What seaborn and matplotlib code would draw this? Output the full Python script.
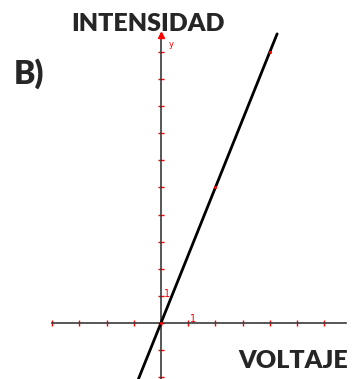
import numpy as np
import pandas as pd
import matplotlib
matplotlib.use('Agg')
import matplotlib.pyplot as plt
import seaborn as sns

sns.set_style('white')
plt.rcParams['font.family'] = ['Lato', 'DejaVu Sans']

# line (voltage -> intensity)
voltaje = [-0.83, 0, 2, 4, 4.27]
intensidad = [-2.07, 0, 5, 10, 10.67]

# small red marks on the line
punto_x = [0, 2, 4]
punto_y = [0, 5, 10]

xticks = [-4, -3, -2, -1, 0, 1, 2, 3, 4, 5, 6]
yticks = [-2, -1, 0, 1, 2, 3, 4, 5, 6, 7, 8, 9, 10]

df = pd.DataFrame({'voltaje': voltaje, 'intensidad': intensidad})
pts = pd.DataFrame({'x': punto_x, 'y': punto_y})

fig = plt.figure(figsize=(3.53, 3.79), dpi=100)
ax = fig.add_axes([0, 0, 1, 1])
ax.patch.set_alpha(0)

sns.lineplot(data=df, x='voltaje', y='intensidad', color='black', lw=2.0,
             sort=False, ax=ax)
sns.scatterplot(data=pts, x='x', y='y', color='red', s=5, linewidth=0,
                zorder=5, ax=ax)

ax.set_xlim(-5.92, 7.06)
ax.set_ylim(-2.07, 11.92)

# axes through the origin
for side in ['top', 'right']:
    ax.spines[side].set_visible(False)
ax.spines['left'].set_position(('data', 0))
ax.spines['bottom'].set_position(('data', 0))
ax.spines['left'].set_bounds(-2.1, 10.65)
ax.spines['bottom'].set_bounds(-4, 6.8)
for side in ['left', 'bottom']:
    ax.spines[side].set_color('#3a3a3a')
    ax.spines[side].set_linewidth(1.2)
    ax.spines[side].set_zorder(1)

ax.set_xticks(xticks)
ax.set_yticks(yticks)
ax.set_xticklabels([])
ax.set_yticklabels([])
ax.tick_params(axis='both', direction='inout', length=4, width=1.0,
               color='red', bottom=True, left=True)
ax.set_xlabel('')
ax.set_ylabel('')

# arrow head and small red labels
ax.plot([0], [10.62], marker='^', color='red', ms=4, clip_on=False)
ax.text(0.3, 10.2, 'y', color='red', fontsize=6, family='DejaVu Sans')
ax.text(1.05, 0.05, '1', color='red', fontsize=7, family='DejaVu Sans')
ax.text(0.1, 0.95, '1', color='red', fontsize=7, family='DejaVu Sans')

fig.text(148 / 353, 1 - 31 / 379, 'INTENSIDAD', fontsize=18,
         fontweight='heavy', ha='center', va='baseline')
fig.text(348 / 353, 1 - 368 / 379, 'VOLTAJE', fontsize=18,
         fontweight='heavy', ha='right', va='baseline')
fig.text(14 / 353, 1 - 84 / 379, 'B)', fontsize=23,
         fontweight='heavy', ha='left', va='baseline')

fig.savefig('out.png', dpi=100)
